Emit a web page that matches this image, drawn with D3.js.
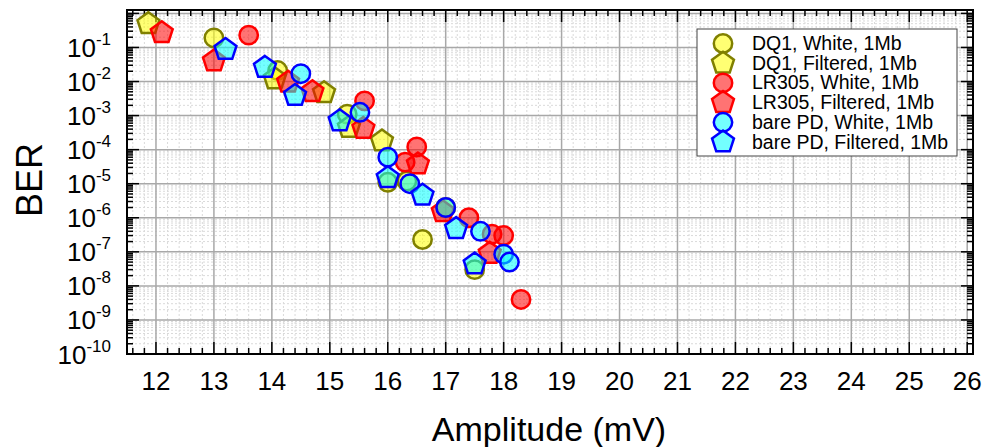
<!DOCTYPE html>
<html><head><meta charset="utf-8">
<script src="https://cdn.jsdelivr.net/npm/d3@7"></script>
<style>
body{margin:0;background:#fff}
text{font-family:"Liberation Sans",Arial,Helvetica,sans-serif;fill:#000}
</style>
</head><body>
<svg id="chart" width="982" height="447"></svg>
<script>
// ---- data ----
const xTicks = [12,13,14,15,16,17,18,19,20,21,22,23,24,25,26];
const yExponents = [-1,-2,-3,-4,-5,-6,-7,-8,-9,-10];
const seriesLabels = ["DQ1, White, 1Mb","DQ1, Filtered, 1Mb","LR305, White, 1Mb","LR305, Filtered, 1Mb","bare PD, White, 1Mb","bare PD, Filtered, 1Mb"];
const dq1White = [[13.0,0.19],[14.1,0.021],[15.3,1.1e-3],[16.0,1.1e-5],[16.33,1.2e-5],[17.0,2e-6],[16.6,2.3e-7],[17.5,3e-8]];
const dq1Filtered = [[11.87,0.5],[14.05,0.012],[14.9,0.0047],[15.33,4.5e-4],[15.9,1.8e-4]];
const lr305White = [[13.6,0.23],[15.6,2.7e-3],[16.5,1.2e-4],[16.3,4.3e-5],[17.4,1e-6],[17.8,3.3e-7],[18.0,3e-7],[18.3,4e-9]];
const lr305Filtered = [[12.1,0.27],[13.0,0.04],[14.28,0.0095],[14.7,0.005],[15.58,4.2e-4],[16.52,3.8e-5],[16.95,1.5e-6],[17.76,9e-8]];
const barePdWhite = [[14.5,0.017],[15.52,1.25e-3],[16.0,6e-5],[16.38,1e-5],[17.0,2e-6],[17.6,4e-7],[18.0,8.5e-8],[18.1,5e-8]];
const barePdFiltered = [[13.2,0.087],[13.88,0.026],[14.4,0.0039],[15.17,7e-4],[16.0,1.5e-5],[16.6,4.6e-6],[17.18,4.8e-7],[17.5,4.4e-8]];

// ---- styles ----
const fills = ["#ffff00","#ffff00","#ff0000","#ff0000","#00ffff","#00ffff"];
const strokes = ["#808000","#808000","#ff0000","#ff0000","#0000ff","#0000ff"];
const shapes = ["circle","pentagon","circle","pentagon","circle","pentagon"];
const allSeries = [dq1White,dq1Filtered,lr305White,lr305Filtered,barePdWhite,barePdFiltered];

const L=127,R=973,T=10,B=354;
const x = d3.scaleLinear().domain([11.5,26.1]).range([L,R]);
const y = d3.scaleLog().domain([1e-10,Math.pow(10,0.1)]).range([B,T]);

const svg = d3.select("#chart");

// pentagon symbol type
const pentagon = {draw(ctx,size){const r=Math.sqrt(size);
  for(let i=0;i<5;i++){const a=-Math.PI/2+i*2*Math.PI/5;const px=r*Math.cos(a),py=r*Math.sin(a);
    if(i===0)ctx.moveTo(px,py);else ctx.lineTo(px,py);} ctx.closePath();}};
const circleSym = {draw(ctx,size){const r=Math.sqrt(size);ctx.moveTo(r,0);ctx.arc(0,0,r,0,2*Math.PI);}};
const sym = {circle: d3.symbol().type(circleSym).size(9.2*9.2), pentagon: d3.symbol().type(pentagon).size(11.5*11.5)};

// minor / major tick values
const xMinor=[]; for(let v=11.6; v<26.1; v+=0.2){ if(Math.abs(v-Math.round(v))>0.01) xMinor.push(+v.toFixed(1)); }
const yMinor=[]; for(let e=-10;e<=0;e++){ for(let m=2;m<=9;m++){ const v=m*Math.pow(10,e); if(v<Math.pow(10,0.1)) yMinor.push(v);} }
const yMajor = yExponents.map(e=>Math.pow(10,e)).concat([1]);

const grid = svg.append("g");
grid.selectAll(".gxm").data(xMinor).join("line").attr("x1",d=>x(d)).attr("x2",d=>x(d)).attr("y1",T).attr("y2",B)
  .attr("stroke","#dadada").attr("stroke-width",1).attr("stroke-dasharray","2,2");
grid.selectAll(".gym").data(yMinor).join("line").attr("y1",d=>y(d)).attr("y2",d=>y(d)).attr("x1",L).attr("x2",R)
  .attr("stroke","#dadada").attr("stroke-width",1).attr("stroke-dasharray","2,2");
grid.selectAll(".gx").data(xTicks).join("line").attr("x1",d=>x(d)).attr("x2",d=>x(d)).attr("y1",T).attr("y2",B)
  .attr("stroke","#a8a8a8").attr("stroke-width",1.5);
grid.selectAll(".gy").data(yMajor).join("line").attr("y1",d=>y(d)).attr("y2",d=>y(d)).attr("x1",L).attr("x2",R)
  .attr("stroke","#a8a8a8").attr("stroke-width",1.5);

// ticks
const tk = svg.append("g").attr("stroke","#000").attr("stroke-width",1.5);
const MJ=12, MN=6;
[[B,-1],[T,1]].forEach(([yy,s])=>{
  tk.selectAll(null).data(xTicks).join("line").attr("x1",d=>x(d)).attr("x2",d=>x(d)).attr("y1",yy).attr("y2",yy+s*MJ);
  tk.selectAll(null).data(xMinor).join("line").attr("x1",d=>x(d)).attr("x2",d=>x(d)).attr("y1",yy).attr("y2",yy+s*MN);
});
[[L,1],[R,-1]].forEach(([xx,s])=>{
  tk.selectAll(null).data(yMajor).join("line").attr("y1",d=>y(d)).attr("y2",d=>y(d)).attr("x1",xx).attr("x2",xx+s*MJ);
  tk.selectAll(null).data(yMinor).join("line").attr("y1",d=>y(d)).attr("y2",d=>y(d)).attr("x1",xx).attr("x2",xx+s*MN);
});
svg.append("rect").attr("x",L).attr("y",T).attr("width",R-L).attr("height",B-T).attr("fill","none").attr("stroke","#000").attr("stroke-width",2);

// tick labels
svg.selectAll(".xl").data(xTicks).join("text").attr("x",d=>x(d)).attr("y",390).attr("text-anchor","middle")
  .attr("font-size",26).text(d=>d);
const yl = svg.selectAll(".yl").data(yExponents).join("text").attr("x",111).attr("y",d=>y(Math.pow(10,d))+9.5)
  .attr("text-anchor","end").attr("font-size",26);
yl.append("tspan").text("10");
yl.append("tspan").attr("dy",-12).attr("font-size",17).text(d=>d);

// axis titles
svg.append("text").attr("x",549).attr("y",441).attr("text-anchor","middle").attr("font-size",34).text("Amplitude (mV)");
svg.append("text").attr("transform","translate(42,180) rotate(-90)").attr("text-anchor","middle").attr("font-size",36).text("BER");

// data
const pts = svg.append("g");
allSeries.forEach((ser,i)=>{
  pts.selectAll(null).data(ser).join("path")
    .attr("d",sym[shapes[i]]).attr("transform",d=>`translate(${x(d[0])},${y(d[1])})`)
    .attr("fill",fills[i]).attr("fill-opacity",0.55).attr("stroke",strokes[i]).attr("stroke-width",2.5);
});

// legend
const lg = svg.append("g");
lg.append("rect").attr("x",697).attr("y",29).attr("width",260).attr("height",127).attr("fill","#fff").attr("stroke","#444").attr("stroke-width",1);
const rows = lg.selectAll(".row").data(seriesLabels).join("g").attr("transform",(d,i)=>`translate(0,${43.5+i*19.7})`);
rows.append("path").attr("d",(d,i)=>sym[shapes[i]]()).attr("transform","translate(723,0)")
  .attr("fill",(d,i)=>fills[i]).attr("fill-opacity",0.55).attr("stroke",(d,i)=>strokes[i]).attr("stroke-width",2.5);
rows.append("text").attr("x",752).attr("y",6.5).attr("font-size",19.5).text(d=>d);
</script>
</body></html>
